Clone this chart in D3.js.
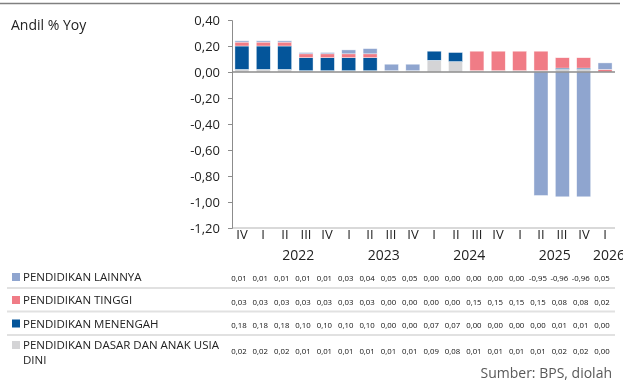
<!DOCTYPE html>
<html><head><meta charset="utf-8">
<script src="https://cdn.jsdelivr.net/npm/d3@7/dist/d3.min.js"></script>
<style>
html,body{margin:0;padding:0;background:#fff;}
svg{display:block;font-family:"Open Sans",sans-serif;}
text{will-change:transform;}
</style></head>
<body>
<svg id="chart" width="623" height="389"></svg>
<script>
const quarters = ["IV","I","II","III","IV","I","II","III","IV","I","II","III","IV","I","II","III","IV","I"];
const years = [
  {label:"2022", from:1, to:4},
  {label:"2023", from:5, to:8},
  {label:"2024", from:9, to:12},
  {label:"2025", from:13, to:16},
  {label:"2026", from:17, to:17}
];
const seriesNames = ["PENDIDIKAN LAINNYA","PENDIDIKAN TINGGI","PENDIDIKAN MENENGAH","PENDIDIKAN DASAR DAN ANAK USIA DINI"];
const lainnya  = [0.01,0.01,0.01,0.01,0.01,0.03,0.04,0.05,0.05,0.00,0.00,0.00,0.00,0.00,-0.95,-0.96,-0.96,0.05];
const tinggi   = [0.03,0.03,0.03,0.03,0.03,0.03,0.03,0.00,0.00,0.00,0.00,0.15,0.15,0.15,0.15,0.08,0.08,0.02];
const menengah = [0.18,0.18,0.18,0.10,0.10,0.10,0.10,0.00,0.00,0.07,0.07,0.00,0.00,0.00,0.00,0.01,0.01,0.00];
const dasar    = [0.02,0.02,0.02,0.01,0.01,0.01,0.01,0.01,0.01,0.09,0.08,0.01,0.01,0.01,0.01,0.02,0.02,0.00];
const yTicks = [0.4,0.2,0,-0.2,-0.4,-0.6,-0.8,-1.0,-1.2];
const colors = ["#8FA5CF","#F07C86","#04559A","#D4D4D6"];
const seriesValues = [lainnya, tinggi, menengah, dasar];

const svg = d3.select("#chart");
const fmt = v => d3.format(".2f")(v).replace(".", ",").replace("−","-");

const x = d3.scaleBand().domain(d3.range(quarters.length)).range([232, 615]).paddingInner(0.343).paddingOuter(0.137);
const y = d3.scaleLinear().domain([-1.2, 0.4]).range([228, 20]);

// top border
svg.append("line").attr("x1",0).attr("x2",620).attr("y1",3.5).attr("y2",3.5).attr("stroke","#808080").attr("stroke-width",1.5);

// title
svg.append("text").attr("x",11).attr("y",30).attr("font-size",14).attr("fill","#222").text("Andil % Yoy");

// bottom category line
svg.append("line").attr("x1",232).attr("x2",615).attr("y1",y(-1.2)).attr("y2",y(-1.2)).attr("stroke","#d9d9d9").attr("stroke-width",2);

// stacked bars
const rows = quarters.map((q,i)=>({i, dasar:dasar[i], menengah:menengah[i], tinggi:tinggi[i], lainnya:lainnya[i]}));
const keys = ["dasar","menengah","tinggi","lainnya"];
const keyColor = {dasar:colors[3], menengah:colors[2], tinggi:colors[1], lainnya:colors[0]};
const stack = d3.stack().keys(keys).offset(d3.stackOffsetDiverging)(rows);
svg.append("g").selectAll("g").data(stack).join("g")
  .attr("fill", d => keyColor[d.key])
  .selectAll("rect").data(d => d).join("rect")
  .attr("x", d => x(d.data.i))
  .attr("width", x.bandwidth())
  .attr("y", d => y(Math.max(d[0], d[1])))
  .attr("height", d => Math.abs(y(d[0]) - y(d[1])))
  .attr("stroke","#fff").attr("stroke-width",0.6).attr("stroke-opacity",0.7);

// y axis
const yAxis = d3.axisLeft(y).tickValues(yTicks).tickSize(4).tickPadding(8).tickFormat(fmt);
const ga = svg.append("g").attr("transform","translate(232,0)").call(yAxis);
ga.select(".domain").attr("stroke","#8c8c8c").attr("d","M-4,20.5H0.5V228.5H-4");
ga.selectAll(".tick line").attr("stroke","#8c8c8c");
ga.selectAll(".tick text").attr("font-size",13).attr("fill","#222").attr("font-family","Open Sans, sans-serif");

// zero line
svg.append("line").attr("x1",232).attr("x2",615).attr("y1",y(0)).attr("y2",y(0)).attr("stroke","#8c8c8c").attr("stroke-width",1.5);

// quarter labels
svg.append("g").selectAll("text").data(quarters).join("text")
  .attr("x",(d,i)=>Math.round(x(i)+x.bandwidth()/2)).attr("y",239)
  .attr("text-anchor","middle").attr("font-size",13).attr("fill","#222").text(d=>d);

// year labels
svg.append("g").selectAll("text").data(years).join("text")
  .attr("x",d=>(x(d.from)+x(d.to)+x.bandwidth())/2 + (d.to===d.from?4:3)).attr("y",260)
  .attr("text-anchor","middle").attr("font-size",14).attr("fill","#222").text(d=>d.label);

// table
const rowBase = [280.5, 304.5, 327.5, 354];
const labelBase = [281, 304, 327.5, 349];
[288, 311.5, 335].forEach(yy=>{
  svg.append("line").attr("x1",7).attr("x2",615).attr("y1",yy).attr("y2",yy).attr("stroke","#e1e1e1").attr("stroke-width",2);
});
seriesNames.forEach((name,k)=>{
  svg.append("rect").attr("x",12).attr("y",labelBase[k]-8).attr("width",8).attr("height",8).attr("fill",colors[k]);
  const t = svg.append("text").attr("x",23).attr("y",labelBase[k]).attr("font-size",11.5).attr("fill","#222");
  if (k===3) {
    t.append("tspan").attr("x",23).text("PENDIDIKAN DASAR DAN ANAK USIA");
    t.append("tspan").attr("x",23).attr("dy",15).text("DINI");
  } else t.text(name);
  svg.append("g").selectAll("text").data(seriesValues[k]).join("text")
    .attr("x",(d,i)=>x(i)+x.bandwidth()/2 - 3).attr("y",rowBase[k])
    .attr("text-anchor","middle").attr("font-size",7.8).attr("fill","#111").text(d=>fmt(d));
});

// source
svg.append("text").attr("x",612).attr("y",377.5).attr("text-anchor","end").attr("font-size",14).attr("fill","#595959").text("Sumber: BPS, diolah");
</script>
</body></html>
